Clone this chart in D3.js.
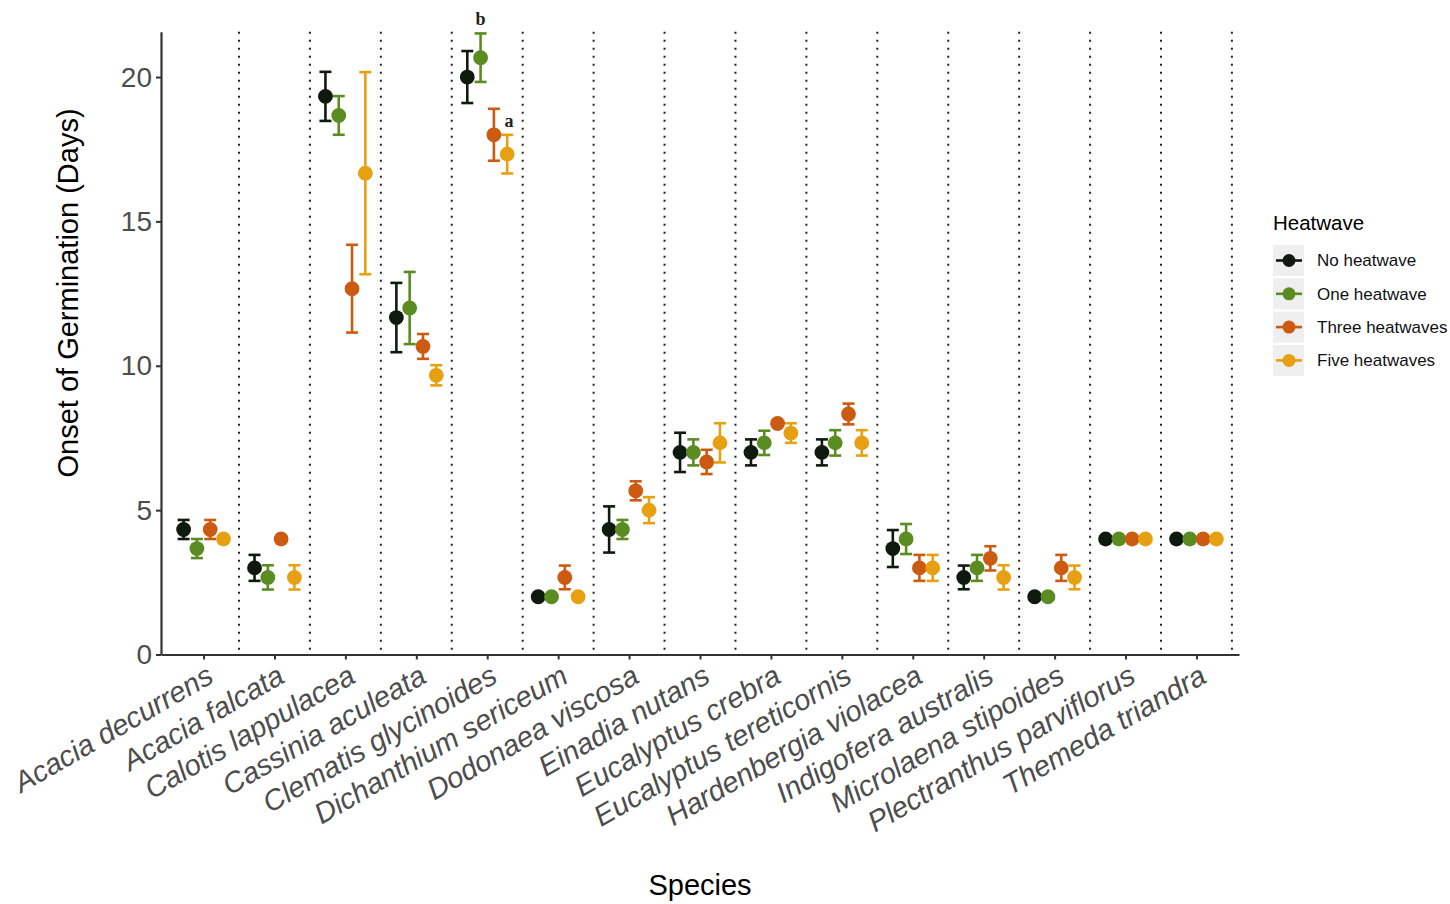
<!DOCTYPE html>
<html>
<head>
<meta charset="utf-8">
<script src="https://cdn.jsdelivr.net/npm/d3@7"></script>
<style>
  body { margin: 0; background: #fff; }
  svg text { font-family: "Liberation Sans", Arial, Helvetica, sans-serif; }
</style>
</head>
<body>
<div id="grafico"></div>
<script>
// species on the x axis
var species = ["Acacia decurrens", "Acacia falcata", "Calotis lappulacea", "Cassinia aculeata",
  "Clematis glycinoides", "Dichanthium sericeum", "Dodonaea viscosa", "Einadia nutans",
  "Eucalyptus crebra", "Eucalyptus tereticornis", "Hardenbergia violacea", "Indigofera australis",
  "Microlaena stipoides", "Plectranthus parviflorus", "Themeda triandra"];

var treatments = ["No heatwave", "One heatwave", "Three heatwaves", "Five heatwaves"];

// mean onset (days) and standard error, one array per treatment
var noneMean  = [4.33, 3.0, 19.33, 11.67, 20.0, 2.0, 4.33, 7.0, 7.0, 7.0, 3.67, 2.67, 2.0, 4.0, 4.0];
var noneSe    = [0.33, 0.45, 0.85, 1.2, 0.9, 0, 0.8, 0.68, 0.45, 0.45, 0.64, 0.41, 0, 0, 0];
var oneMean   = [3.67, 2.67, 18.67, 12.0, 20.67, 2.0, 4.33, 7.0, 7.33, 7.33, 4.0, 3.0, 2.0, 4.0, 4.0];
var oneSe     = [0.33, 0.42, 0.67, 1.25, 0.84, 0, 0.33, 0.45, 0.42, 0.44, 0.52, 0.45, 0, 0, 0];
var threeMean = [4.33, 4.0, 12.67, 10.67, 18.0, 2.67, 5.67, 6.67, 8.0, 8.33, 3.0, 3.33, 3.0, 4.0, 4.0];
var threeSe   = [0.33, 0, 1.52, 0.43, 0.9, 0.41, 0.33, 0.42, 0, 0.36, 0.45, 0.42, 0.45, 0, 0];
var fiveMean  = [4.0, 2.67, 16.67, 9.67, 17.33, 2.0, 5.0, 7.33, 7.67, 7.33, 3.0, 2.67, 2.67, 4.0, 4.0];
var fiveSe    = [0, 0.42, 3.5, 0.35, 0.67, 0, 0.45, 0.68, 0.34, 0.44, 0.45, 0.42, 0.41, 0, 0];

var yTicks = [0, 5, 10, 15, 20];

// significance letters: species index, treatment index, letter
var letters = [{sp: 4, tr: 1, txt: "b"}, {sp: 4, tr: 2, txt: "a"}];

var colors = ["#0f1a0e", "#5a8c22", "#cc5a10", "#e6a012"];
var means = [noneMean, oneMean, threeMean, fiveMean];
var ses = [noneSe, oneSe, threeSe, fiveSe];

var data = [];
for (let t = 0; t < treatments.length; t++) {
  for (let i = 0; i < species.length; i++) {
    data.push({sp: i, tr: t, mean: means[t][i], se: ses[t][i]});
  }
}

var W = 1450, H = 904;
var svg = d3.select("#grafico").append("svg")
  .attr("width", W)
  .attr("height", H);

// scales: discrete positions 1..15 with ggplot style 0.6 expansion
var x = d3.scaleLinear().domain([0.4, 15.6]).range([161, 1239]);
var y = d3.scaleLinear().domain([0, 21.57]).range([654.5, 31.7]);
var dodge = 0.75 / treatments.length;
function xpos(d) { return x(d.sp + 1 + (d.tr - 1.5) * dodge); }

// dotted separators between species
svg.append("g")
  .selectAll("line")
  .data(d3.range(1.5, 16, 1))
  .enter().append("line")
  .attr("x1", function(d) { return x(d); })
  .attr("x2", function(d) { return x(d); })
  .attr("y1", y(21.57))
  .attr("y2", y(0))
  .style("stroke", "#222")
  .style("stroke-width", 2)
  .style("stroke-dasharray", "2,6");

// error bars
var bars = svg.append("g")
  .selectAll("g")
  .data(data.filter(function(d) { return d.se > 0; }))
  .enter().append("g")
  .style("stroke", function(d) { return colors[d.tr]; })
  .style("stroke-width", 2.6);

bars.append("line")
  .attr("x1", xpos).attr("x2", xpos)
  .attr("y1", function(d) { return y(d.mean + d.se); })
  .attr("y2", function(d) { return y(d.mean - d.se); });
bars.append("line")
  .attr("x1", function(d) { return xpos(d) - 6; })
  .attr("x2", function(d) { return xpos(d) + 6; })
  .attr("y1", function(d) { return y(d.mean + d.se); })
  .attr("y2", function(d) { return y(d.mean + d.se); });
bars.append("line")
  .attr("x1", function(d) { return xpos(d) - 6; })
  .attr("x2", function(d) { return xpos(d) + 6; })
  .attr("y1", function(d) { return y(d.mean - d.se); })
  .attr("y2", function(d) { return y(d.mean - d.se); });

// points
svg.append("g")
  .selectAll("circle")
  .data(data)
  .enter().append("circle")
  .attr("cx", xpos)
  .attr("cy", function(d) { return y(d.mean); })
  .attr("r", 7.4)
  .style("fill", function(d) { return colors[d.tr]; });

// letters over Clematis
svg.append("g")
  .selectAll("text")
  .data(letters)
  .enter().append("text")
  .attr("x", function(d) {
    var p = {sp: d.sp, tr: d.tr};
    return d.txt == "b" ? xpos(p) : xpos(p) + 15;
  })
  .attr("y", function(d) {
    var top = means[d.tr][d.sp] + ses[d.tr][d.sp];
    return d.txt == "b" ? y(top) - 8 : y(top) + 18;
  })
  .attr("text-anchor", "middle")
  .style("font-family", "'Liberation Serif', 'DejaVu Serif', serif")
  .style("font-weight", "bold")
  .style("font-size", "18px")
  .style("fill", "#222")
  .text(function(d) { return d.txt; });

// Y axis
var yAxis = svg.append("g")
  .attr("transform", "translate(" + x(0.4) + ",0)")
  .call(d3.axisLeft(y).tickValues(yTicks).tickSize(5).tickSizeOuter(0).tickPadding(4));
yAxis.select(".domain").style("stroke", "#333").style("stroke-width", 2.2);
yAxis.selectAll(".tick line").style("stroke", "#333").style("stroke-width", 2);
yAxis.selectAll("text")
  .style("font-size", "28px")
  .style("fill", "#4d4d4d")
  .style("font-family", "'Liberation Sans', Arial, sans-serif");

// X axis
var xAxis = svg.append("g")
  .attr("transform", "translate(0," + y(0) + ")")
  .call(d3.axisBottom(x)
    .tickValues(d3.range(1, 16))
    .tickFormat(function(d) { return species[d - 1]; })
    .tickSize(5).tickSizeOuter(0));
xAxis.select(".domain").style("stroke", "#333").style("stroke-width", 2.2);
xAxis.selectAll(".tick line").style("stroke", "#333").style("stroke-width", 2);
xAxis.selectAll("text")
  .attr("y", 0)
  .attr("dy", "0.71em")
  .attr("transform", "translate(1,9) rotate(-30)")
  .style("text-anchor", "end")
  .style("font-size", "29px")
  .style("font-style", "italic")
  .style("fill", "#4d4d4d")
  .style("font-family", "'Liberation Sans', Arial, sans-serif");

// axis titles
svg.append("text")
  .attr("x", 700)
  .attr("y", 895)
  .attr("text-anchor", "middle")
  .style("font-size", "29px")
  .style("fill", "#000")
  .text("Species");

svg.append("text")
  .attr("transform", "translate(78,293) rotate(-90)")
  .attr("text-anchor", "middle")
  .style("font-size", "29px")
  .style("fill", "#000")
  .text("Onset of Germination (Days)");

// legend
var legend = svg.append("g").attr("transform", "translate(1273,0)");
legend.append("text")
  .attr("x", 0)
  .attr("y", 230)
  .style("font-size", "20.5px")
  .style("fill", "#000")
  .text("Heatwave");

var rows = legend.selectAll(".row")
  .data(treatments)
  .enter().append("g")
  .attr("class", "row")
  .attr("transform", function(d, i) { return "translate(0," + (260.5 + i * 33.3) + ")"; });

rows.append("rect")
  .attr("x", 0).attr("y", -15.5)
  .attr("width", 31).attr("height", 31)
  .style("fill", "#efefef");
rows.append("line")
  .attr("x1", 3).attr("x2", 29)
  .attr("y1", 0).attr("y2", 0)
  .style("stroke", function(d, i) { return colors[i]; })
  .style("stroke-width", 2.6);
rows.append("circle")
  .attr("cx", 16).attr("cy", 0).attr("r", 6.5)
  .style("fill", function(d, i) { return colors[i]; });
rows.append("text")
  .attr("x", 44)
  .attr("y", 0)
  .attr("dy", "0.35em")
  .style("font-size", "17px")
  .style("fill", "#111")
  .text(function(d) { return d; });
</script>
</body>
</html>
